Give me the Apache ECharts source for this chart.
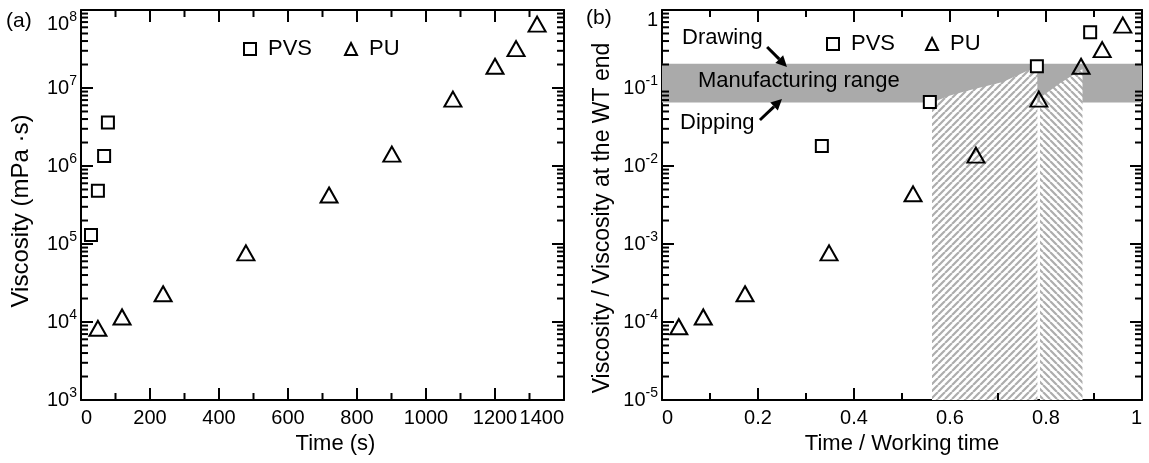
<!DOCTYPE html>
<html>
<head>
<meta charset="utf-8">
<script src="https://cdn.jsdelivr.net/npm/echarts@6.0.0/dist/echarts.min.js"></script>
<style>html,body{margin:0;padding:0;background:#fff}#c{width:1149px;height:463px}</style>
</head>
<body>
<div id="c"></div>
<script>
// ---------- data ----------
// (a) viscosity vs time
const pvsTimeA = [29, 49, 67, 78];
const pvsViscA = [1.3e5, 4.8e5, 1.34e6, 3.6e6];
const puTimeA = [49, 119, 238, 478, 719, 901, 1078, 1200, 1261, 1322];
const puViscA = [8.3e3, 1.16e4, 2.3e4, 7.7e4, 4.25e5, 1.42e6, 7.2e6, 1.9e7, 3.2e7, 6.6e7];
// (b) normalised viscosity vs normalised time
const pvsTimeB = [0.333, 0.558, 0.781, 0.892];
const pvsRatioB = [0.018, 0.066, 0.19, 0.52];
const puTimeB = [0.035, 0.086, 0.173, 0.348, 0.523, 0.654, 0.785, 0.873, 0.917, 0.96];
const puRatioB = [8.7e-5, 1.16e-4, 2.3e-4, 7.7e-4, 4.4e-3, 1.38e-2, 7.2e-2, 0.19, 0.31, 0.64];
// manufacturing range (viscosity ratio)
const manufacturingRange = [0.065, 0.205];
// hatched working windows (time ratio, viscosity ratio)
const hatchPvsX = [0.5625, 0.5625, 0.60, 0.642, 0.71, 0.782, 0.782];
const hatchPvsY = [1e-5, 0.065, 0.080, 0.094, 0.119, 0.19, 1e-5];
const hatchPuX = [0.7875, 0.7875, 0.83, 0.876, 0.876];
const hatchPuY = [1e-5, 0.075, 0.116, 0.175, 1e-5];
// annotations in (b)
const annotTexts = ['Drawing', 'Manufacturing range', 'Dipping'];
const annotAt = [[0.0417, 0.437], [0.075, 0.123], [0.0375, 0.0356]];
const arrowFrom = [[0.219, 0.336], [0.204, 0.0389]];
const arrowTo = [[0.2604, 0.186], [0.25, 0.0723]];
// axis ranges / ticks
const xRangeA = [0, 1400], xStepA = 200;
const yRangeA = [1e3, 1e8];
const xRangeB = [0, 1], xStepB = 0.2;
const yRangeB = [1e-5, 1];

// ---------- helpers ----------
const FONT = 'Liberation Sans';
const BLACK = '#000';
function zip(a, b) { return a.map((v, i) => [v, b[i]]); }
function minorLogValues(range) {
  const out = [];
  const e0 = Math.round(Math.log10(range[0])), e1 = Math.round(Math.log10(range[1]));
  for (let e = e0; e < e1; e++) for (let k = 2; k <= 9; k++) out.push(k * Math.pow(10, e));
  return out;
}
function minorLinValues(range, step) {
  const out = [];
  for (let v = range[0] + step / 2; v < range[1]; v += step) out.push(v);
  return out;
}
function powLabel(v) {
  const e = Math.round(Math.log10(v));
  if (e === 0) return '{o|1}';
  return '{b|10}{s|' + e + '}';
}
const richPow = {
  b: {fontSize: 20, lineHeight: 28, fontFamily: FONT, color: BLACK},
  s: {fontSize: 14, lineHeight: 14, verticalAlign: 'top', fontFamily: FONT, color: BLACK},
  o: {fontSize: 20, lineHeight: 20, fontFamily: FONT, color: BLACK}
};
function hatchCanvas(dir) {
  const s = 7;
  const c = document.createElement('canvas');
  c.width = s; c.height = s;
  const g = c.getContext('2d');
  g.fillStyle = '#fff'; g.fillRect(0, 0, s, s);
  g.strokeStyle = '#adadad'; g.lineWidth = 2.2;
  g.beginPath();
  for (const o of [-s, 0, s]) {
    if (dir > 0) { g.moveTo(o, s); g.lineTo(o + s, 0); }
    else { g.moveTo(o, 0); g.lineTo(o + s, s); }
  }
  g.stroke();
  return c;
}
const patUp = hatchCanvas(1), patDown = hatchCanvas(-1);

function xAxisDef(gi, range, step, name, showLabels, pos, namePadLeft) {
  return {
    type: 'value', gridIndex: gi, position: pos, min: range[0], max: range[1], interval: step,
    name: showLabels ? name : '', nameLocation: 'middle', nameGap: 28,
    nameTextStyle: {fontSize: 22, color: BLACK, fontFamily: FONT, padding: [0, 0, 0, namePadLeft || 0]},
    axisLine: {show: true, onZero: false, lineStyle: {color: BLACK, width: 2}},
    axisTick: {show: true, inside: true, length: 12, lineStyle: {color: BLACK, width: 2}},
    minorTick: {show: false},
    axisLabel: {show: showLabels, fontSize: 20, color: BLACK, fontFamily: FONT, margin: 8,
      formatter: v => String(+v.toFixed(6)), showMinLabel: true, showMaxLabel: true,
      alignMinLabel: 'left', alignMaxLabel: 'right'},
    splitLine: {show: false}
  };
}
function yAxisDef(gi, range, name, showLabels, pos, nameSize, nameShift) {
  return {
    type: 'log', logBase: 10, gridIndex: gi, position: pos, min: range[0], max: range[1], splitNumber: 5,
    name: showLabels ? name : '', nameLocation: 'middle', nameGap: 48,
    nameTextStyle: {fontSize: nameSize || 23, color: BLACK, fontFamily: FONT, padding: [0, nameShift || 0, 0, 0]},
    axisLine: {show: true, onZero: false, lineStyle: {color: BLACK, width: 2}},
    axisTick: {show: true, inside: true, length: 12, lineStyle: {color: BLACK, width: 2}},
    axisLabel: {show: showLabels, formatter: powLabel, rich: richPow, margin: 4,
      showMinLabel: true, showMaxLabel: true, verticalAlignMaxLabel: 'top'},
    splitLine: {show: false}
  };
}
// log minor ticks on left+right edges
function minorYTickSeries(xi, yi, xr, yr) {
  return {
    type: 'custom', xAxisIndex: xi, yAxisIndex: yi, silent: true, z: 4, clip: false,
    data: minorLogValues(yr).map(v => [xr[0], v]),
    encode: {x: 0, y: 1},
    renderItem: function (params, api) {
      const v = api.value(1);
      const a = api.coord([xr[0], v]), b = api.coord([xr[1], v]);
      const st = {stroke: BLACK, lineWidth: 2};
      return {type: 'group', children: [
        {type: 'line', shape: {x1: a[0], y1: a[1], x2: a[0] + 7, y2: a[1]}, style: st},
        {type: 'line', shape: {x1: b[0] - 7, y1: b[1], x2: b[0], y2: b[1]}, style: st}
      ]};
    }
  };
}
// linear minor ticks on bottom+top edges
function minorXTickSeries(xi, yi, xr, step, yr) {
  return {
    type: 'custom', xAxisIndex: xi, yAxisIndex: yi, silent: true, z: 4, clip: false,
    data: minorLinValues(xr, step).map(v => [v, yr[0]]),
    encode: {x: 0, y: 1},
    renderItem: function (params, api) {
      const v = api.value(0);
      const a = api.coord([v, yr[0]]), b = api.coord([v, yr[1]]);
      const st = {stroke: BLACK, lineWidth: 2};
      return {type: 'group', children: [
        {type: 'line', shape: {x1: a[0], y1: a[1], x2: a[0], y2: a[1] - 7}, style: st},
        {type: 'line', shape: {x1: b[0], y1: b[1], x2: b[0], y2: b[1] + 7}, style: st}
      ]};
    }
  };
}
const markerPVS = {symbol: 'rect', symbolSize: 12, itemStyle: {color: '#fff', borderColor: BLACK, borderWidth: 2, opacity: 1}};
const markerPU = {symbol: 'triangle', symbolSize: [17, 15], itemStyle: {color: 'rgba(255,255,255,0)', borderColor: BLACK, borderWidth: 2, opacity: 1}};
const legendText = {fontSize: 22, color: BLACK, fontFamily: FONT, padding: [0, 0, 0, 7]};

const option = {
  animation: false,
  backgroundColor: '#fff',
  textStyle: {fontFamily: FONT},
  title: [
    {text: '(a)', left: 6, top: 11, padding: 0, textStyle: {fontSize: 21, fontWeight: 'normal', color: BLACK, fontFamily: FONT}},
    {text: '(b)', left: 586, top: 8, padding: 0, textStyle: {fontSize: 21, fontWeight: 'normal', color: BLACK, fontFamily: FONT}}
  ],
  legend: [
    {data: ['PVS', 'PU'], left: 243, top: 38, itemWidth: 12, itemHeight: 12, itemGap: 32, padding: 0,
      selectedMode: false, textStyle: legendText},
    {data: ['PVS', 'PU'], left: 826, top: 33, itemWidth: 12, itemHeight: 12, itemGap: 30, padding: 0,
      selectedMode: false, textStyle: legendText}
  ],
  grid: [
    {left: 81, top: 10, width: 483, height: 390},
    {left: 662, top: 10, width: 480, height: 390}
  ],
  xAxis: [
    xAxisDef(0, xRangeA, xStepA, 'Time (s)', true, 'bottom', 26),
    xAxisDef(0, xRangeA, xStepA, '', false, 'top'),
    xAxisDef(1, xRangeB, xStepB, 'Time / Working time', true, 'bottom', 0),
    xAxisDef(1, xRangeB, xStepB, '', false, 'top')
  ],
  yAxis: [
    yAxisDef(0, yRangeA, 'Viscosity (mPa \u00b7s)', true, 'left', 24, 12),
    yAxisDef(0, yRangeA, '', false, 'right'),
    yAxisDef(1, yRangeB, 'Viscosity / Viscosity at the WT end', true, 'left', 23, 26),
    yAxisDef(1, yRangeB, '', false, 'right')
  ],
  series: [
    // band + hatched windows in (b)
    {
      type: 'custom', name: 'ranges', xAxisIndex: 2, yAxisIndex: 2, silent: true, z: 1, clip: true,
      data: [[0, 0], [1, 1], [2, 2]],
      encode: {x: 0, y: 1},
      renderItem: function (params, api) {
        const i = params.dataIndex;
        if (i === 0) {
          const p0 = api.coord([xRangeB[0], manufacturingRange[1]]);
          const p1 = api.coord([xRangeB[1], manufacturingRange[0]]);
          return {type: 'rect', shape: {x: p0[0], y: p0[1], width: p1[0] - p0[0], height: p1[1] - p0[1]},
            style: {fill: '#aaaaaa'}};
        }
        const xs = i === 1 ? hatchPvsX : hatchPuX, ys = i === 1 ? hatchPvsY : hatchPuY;
        const pts = xs.map((x, k) => api.coord([x, ys[k]]));
        return {type: 'polygon', shape: {points: pts},
          style: {fill: {image: i === 1 ? patUp : patDown, repeat: 'repeat'}}};
      }
    },
    // annotations in (b)
    {
      type: 'custom', name: 'notes', xAxisIndex: 2, yAxisIndex: 2, silent: true, z: 6, clip: false,
      data: [[0, 0]], encode: {x: 0, y: 1},
      renderItem: function (params, api) {
        const children = [];
        annotTexts.forEach((t, k) => {
          const p = api.coord(annotAt[k]);
          children.push({type: 'text', x: p[0], y: p[1],
            style: {text: t, fill: BLACK, font: '22px "Liberation Sans"', align: 'left', verticalAlign: 'middle'}});
        });
        arrowFrom.forEach((f, k) => {
          const a = api.coord(f), b = api.coord(arrowTo[k]);
          const dx = b[0] - a[0], dy = b[1] - a[1], L = Math.hypot(dx, dy);
          const ux = dx / L, uy = dy / L, hl = 11, hw = 5.5;
          const bx = b[0] - ux * hl, by = b[1] - uy * hl;
          children.push({type: 'line', shape: {x1: a[0], y1: a[1], x2: bx, y2: by},
            style: {stroke: BLACK, lineWidth: 3}});
          children.push({type: 'polygon', shape: {points: [[b[0], b[1]],
            [bx - uy * hw, by + ux * hw], [bx + uy * hw, by - ux * hw]]}, style: {fill: BLACK}});
        });
        return {type: 'group', children: children};
      }
    },
    minorYTickSeries(0, 0, xRangeA, yRangeA),
    minorYTickSeries(2, 2, xRangeB, yRangeB),
    minorXTickSeries(0, 0, xRangeA, xStepA, yRangeA),
    minorXTickSeries(2, 2, xRangeB, xStepB, yRangeB),
    Object.assign({type: 'scatter', name: 'PVS', xAxisIndex: 0, yAxisIndex: 0, z: 5, data: zip(pvsTimeA, pvsViscA)}, markerPVS),
    Object.assign({type: 'scatter', name: 'PU', xAxisIndex: 0, yAxisIndex: 0, z: 5, data: zip(puTimeA, puViscA)}, markerPU),
    Object.assign({type: 'scatter', name: 'PVS', xAxisIndex: 2, yAxisIndex: 2, z: 5, data: zip(pvsTimeB, pvsRatioB)}, markerPVS),
    Object.assign({type: 'scatter', name: 'PU', xAxisIndex: 2, yAxisIndex: 2, z: 5, data: zip(puTimeB, puRatioB)}, markerPU)
  ]
};
const chart = echarts.init(document.getElementById('c'), null, {renderer: 'canvas'});
chart.setOption(option);
</script>
</body>
</html>
